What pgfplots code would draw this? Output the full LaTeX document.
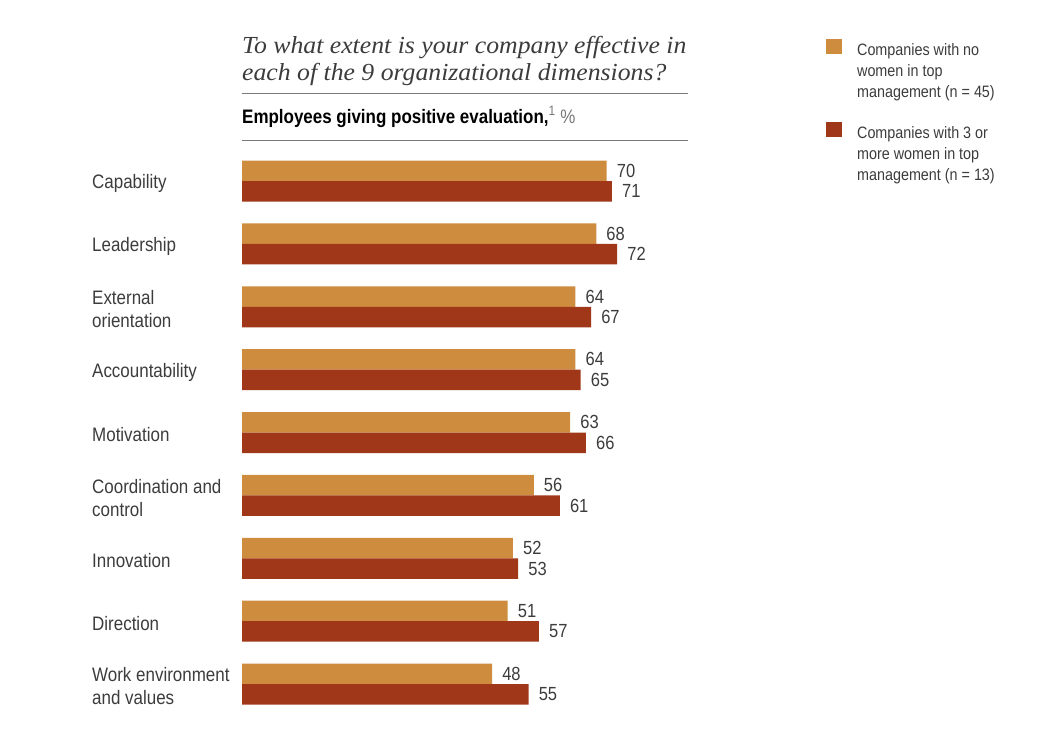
\documentclass[border=0pt]{standalone}
\usepackage{pgfplots}
\pgfplotsset{compat=1.18}
\usepackage{fontspec}
\setmainfont{Liberation Sans}
\newfontfamily\cond{Liberation Sans}[FakeStretch=0.87]
\newfontfamily\titlefont{Liberation Serif}[FakeStretch=1.05]
\definecolor{barlight}{RGB}{205,140,62}
\definecolor{bardark}{RGB}{160,55,24}
\definecolor{txt}{RGB}{60,60,60}
\definecolor{rule}{RGB}{120,120,120}

\begin{document}
\begin{tikzpicture}
\useasboundingbox (0,0) rectangle (1037pt,-753pt);
\node[anchor=north west, inner sep=0, align=left, text=txt,
      font=\titlefont\itshape\fontsize{24.5}{27}\selectfont] at (242pt,-36pt)
  {To what extent is your company effective in\\each of the 9 organizational dimensions?};
\draw[rule, line width=0.8pt] (242pt,-93pt) -- (688pt,-93pt);
\draw[rule, line width=0.8pt] (242pt,-140pt) -- (688pt,-140pt);
\node[anchor=west, inner sep=0, font=\cond\fontsize{19.5}{22}\selectfont] at (242pt,-117pt)
  {\textbf{Employees giving positive evaluation,}\textsuperscript{\textcolor{rule}{1}} \textcolor{rule}{\%}};

\begin{axis}[
  at={(242pt,-715.44pt)}, anchor=south west,
  scale only axis, width=416.8pt, height=565.88pt,
  xmin=0, xmax=80, ymin=-0.5, ymax=8.5,
  xbar, bar width=20.5pt,
  clip=false,
  axis line style={draw=none},
  xtick=\empty, major tick length=0pt,
  ytick={0,...,8},
  yticklabels={{Work environment\\and values},Direction,Innovation,{Coordination and\\control},Motivation,Accountability,{External\\orientation},Leadership,Capability},
  yticklabel style={anchor=west, xshift=-150pt, yshift=-2.5pt, align=left, inner sep=0pt,
    font=\cond\fontsize{19.5}{23}\selectfont, text=txt},
  nodes near coords,
  /pgf/number format/assume math mode=true,
  nodes near coords style={anchor=west, inner sep=0pt, xshift=10pt,
    font=\cond\fontsize{19}{19}\selectfont, text=txt},
  legend style={draw=none, fill=none, at={(axis description cs:1.401,1.1965)},
    anchor=north west, font=\cond\fontsize{16.5}{21}\selectfont, text=txt,
    row sep=17pt, inner sep=0pt, cells={align=left}},
  legend cell align=left,
  legend image code/.code={\path[#1, draw=none] (0pt,18pt) rectangle (16pt,33pt);
    \path (29pt,-33pt);},
]
\addplot[fill=barlight, draw=none, bar shift=10.25pt] coordinates {
  (70,8) (68,7) (64,6) (64,5) (63,4) (56,3) (52,2) (51,1) (48,0)};
\addlegendentry{Companies with no\\women in top\\management (n = 45)}
\addplot[fill=bardark, draw=none, bar shift=-10.25pt] coordinates {
  (71,8) (72,7) (67,6) (65,5) (66,4) (61,3) (53,2) (57,1) (55,0)};
\addlegendentry{Companies with 3 or\\more women in top\\management (n = 13)}
\end{axis}
\end{tikzpicture}
\end{document}
